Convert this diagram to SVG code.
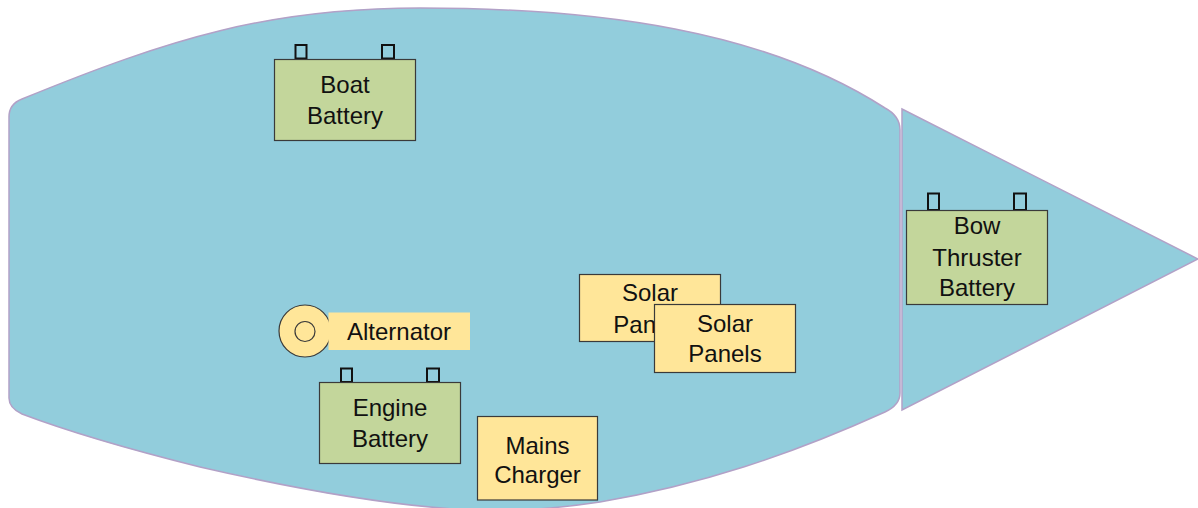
<svg xmlns="http://www.w3.org/2000/svg" width="1198" height="508" viewBox="0 0 1198 508">
<style>
.hull{fill:#92CDDC;stroke:#B2A1C7;stroke-width:1.5}
.bat{fill:#C3D69B;stroke:#3A3A3A;stroke-width:1.2}
.term{fill:none;stroke:#111;stroke-width:2}
.yel{fill:#FFE699;stroke:#3A3A3A;stroke-width:1.2}
.t{font-family:"Liberation Sans",Arial,sans-serif;font-size:24px;fill:#111;text-anchor:middle}
</style>
<rect width="1198" height="508" fill="#fff"/>
<g id="hull">
<path class="hull" d="M9,117 Q9,104 22,99 C172,37.5 270,8 420,8 C600,8 765,30.6 885,108 Q900,116 900,130 L900,393 Q900,405 885,412 C790,455 700,485 600,502 C560,508 510,512 470,510 C390,506 300,490 200,467 C140,452 80,436 22,414 Q9,408 9,398 Z"/>
<path class="hull" d="M902,109 L1198,259 L902,410 Z"/>
</g>
<g id="boat-battery">
<rect class="term" x="295.5" y="45" width="11" height="13.5"/>
<rect class="term" x="382" y="45" width="12" height="13.5"/>
<rect class="bat" x="274.5" y="59.5" width="141" height="81"/>
<text class="t" x="345" y="93">Boat</text>
<text class="t" x="345" y="123.5">Battery</text>
</g>
<g id="alternator">
<circle class="yel" cx="305" cy="331" r="26"/>
<circle cx="305" cy="331.5" r="10" fill="none" stroke="#3A3A3A" stroke-width="1.2"/>
<rect x="328.5" y="312.5" width="141.5" height="37.5" fill="#FFE699"/>
<text class="t" x="399" y="340">Alternator</text>
</g>
<g id="engine-battery">
<rect class="term" x="341" y="368.5" width="11" height="13.5"/>
<rect class="term" x="427" y="368.5" width="12" height="13.5"/>
<rect class="bat" x="319.5" y="382.5" width="141" height="81"/>
<text class="t" x="390" y="416">Engine</text>
<text class="t" x="390" y="446.5">Battery</text>
</g>
<g id="solar-panels-1">
<rect class="yel" x="579.5" y="274.5" width="141" height="67"/>
<text class="t" x="650" y="301">Solar</text>
<text class="t" x="650" y="332.5">Panels</text>
</g>
<g id="solar-panels-2">
<rect class="yel" x="654.5" y="304.5" width="141" height="68"/>
<text class="t" x="725" y="331.5">Solar</text>
<text class="t" x="725" y="362">Panels</text>
</g>
<g id="mains-charger">
<rect class="yel" x="477.5" y="416.5" width="120" height="83.5"/>
<text class="t" x="537.5" y="453.5">Mains</text>
<text class="t" x="537.5" y="483">Charger</text>
</g>
<g id="bow-thruster-battery">
<rect class="term" x="928" y="193.5" width="11" height="16.5"/>
<rect class="term" x="1014" y="193.5" width="12" height="16.5"/>
<rect class="bat" x="906.5" y="210.5" width="141" height="94"/>
<text class="t" x="977" y="234">Bow</text>
<text class="t" x="977" y="266">Thruster</text>
<text class="t" x="977" y="296">Battery</text>
</g>
<g id="connectors"></g>
</svg>
